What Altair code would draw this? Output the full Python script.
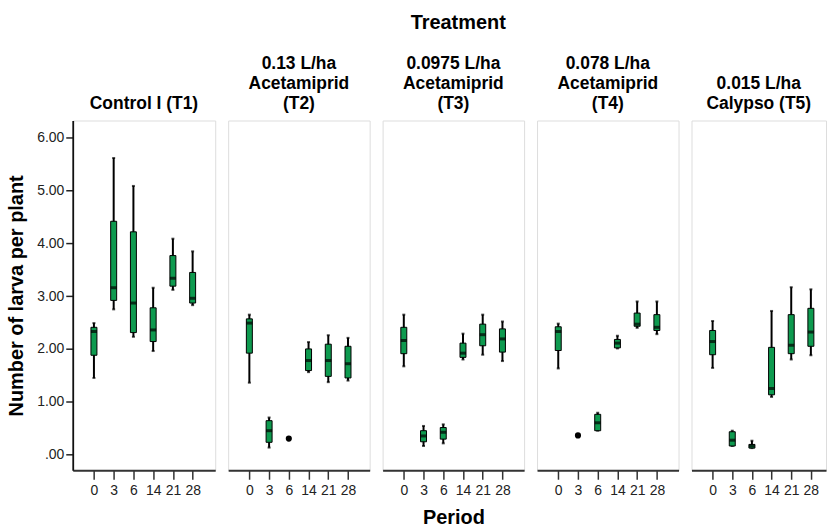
import json
import altair as alt
import pandas as pd

periods = ["0", "3", "6", "14", "21", "28"]
treatment_titles = [
    ["Control I (T1)"],
    ["0.13 L/ha", "Acetamiprid", "(T2)"],
    ["0.0975 L/ha", "Acetamiprid", "(T3)"],
    ["0.078 L/ha", "Acetamiprid", "(T4)"],
    ["0.015 L/ha", "Calypso (T5)"],
]

# box statistics per treatment (min, q1, median, q3, max) for each period
t1_min = [1.45, 2.75, 2.23, 1.96, 3.12, 2.83]
t1_q1 = [1.88, 2.92, 2.31, 2.14, 3.19, 2.87]
t1_med = [2.33, 3.16, 2.87, 2.36, 3.34, 2.96]
t1_q3 = [2.41, 4.42, 4.22, 2.78, 3.77, 3.45]
t1_max = [2.49, 5.62, 5.09, 3.16, 4.09, 3.85]

t2_min = [1.36, 0.13, None, 1.56, 1.37, 1.40]
t2_q1 = [1.92, 0.23, None, 1.59, 1.48, 1.45]
t2_med = [2.49, 0.45, None, 1.78, 1.78, 1.72]
t2_q3 = [2.57, 0.64, None, 2.00, 2.09, 2.05]
t2_max = [2.65, 0.70, None, 2.13, 2.26, 2.21]

t3_min = [1.67, 0.16, 0.21, 1.80, 1.89, 1.77]
t3_q1 = [1.91, 0.24, 0.29, 1.84, 2.06, 1.94]
t3_med = [2.16, 0.35, 0.42, 1.92, 2.27, 2.19]
t3_q3 = [2.41, 0.45, 0.51, 2.11, 2.47, 2.38]
t3_max = [2.65, 0.54, 0.57, 2.29, 2.65, 2.52]

t4_min = [1.63, None, 0.45, 2.01, 2.40, 2.28]
t4_q1 = [1.97, None, 0.45, 2.02, 2.43, 2.35]
t4_med = [2.33, None, 0.60, 2.11, 2.47, 2.41]
t4_q3 = [2.42, None, 0.76, 2.18, 2.68, 2.65]
t4_max = [2.48, None, 0.79, 2.25, 2.90, 2.90]

t5_min = [1.64, 0.16, 0.12, 1.09, 1.80, 1.88]
t5_q1 = [1.89, 0.16, 0.12, 1.13, 1.91, 2.05]
t5_med = [2.14, 0.27, 0.16, 1.25, 2.07, 2.32]
t5_q3 = [2.35, 0.43, 0.19, 2.03, 2.65, 2.77]
t5_max = [2.53, 0.45, 0.26, 2.72, 3.17, 3.13]

# collapsed groups drawn as single dots
dot_treatment = [1, 3]
dot_period_idx = [2, 1]
dot_value = [0.30, 0.36]

stats = [
    (t1_min, t1_q1, t1_med, t1_q3, t1_max),
    (t2_min, t2_q1, t2_med, t2_q3, t2_max),
    (t3_min, t3_q1, t3_med, t3_q3, t3_max),
    (t4_min, t4_q1, t4_med, t4_q3, t4_max),
    (t5_min, t5_q1, t5_med, t5_q3, t5_max),
]

rows = []
for t, (mn, q1, md, q3, mx) in enumerate(stats):
    for i in range(len(periods)):
        if md[i] is None:
            continue
        rows.append(dict(t=t, idx=i, period=periods[i], lo=mn[i], q1=q1[i],
                         med=md[i], q3=q3[i], hi=mx[i]))
box_df = pd.DataFrame(rows)
dot_df = pd.DataFrame(dict(t=dot_treatment, idx=dot_period_idx, v=dot_value))

GREEN = "#0e9a4f"
FONT = "Liberation Sans"
STEP = 21.3
PAD = 17.5
YDOM = [-0.30, 6.33]
label_expr = json.dumps(periods) + "[datum.value]"


def panel(t, width, show_y, show_xtitle):
    xdom = [-PAD / STEP, (width - PAD) / STEP]
    xaxis_kwargs = dict(values=list(range(len(periods))), labelExpr=label_expr,
                        grid=False, tickSize=9, tickWidth=1.5, tickColor="#333",
                        domainColor="#333", domainWidth=1.8, labelFontSize=14,
                        labelColor="#222", labelFont=FONT, labelPadding=4,
                        titleFontSize=20, titleFont=FONT, titleFontWeight="bold",
                        titleColor="#000", titlePadding=10)
    if show_xtitle:
        xaxis_kwargs["title"] = "Period"
    else:
        xaxis_kwargs["title"] = None
    x = alt.X("idx:Q", scale=alt.Scale(domain=xdom, nice=False, zero=False),
              axis=alt.Axis(**xaxis_kwargs))
    if show_y:
        yaxis = alt.Axis(values=[0, 1, 2, 3, 4, 5, 6],
                         labelExpr="datum.value == 0 ? '.00' : format(datum.value, '.2f')",
                         grid=False, tickSize=7, tickWidth=1.5, tickColor="#222",
                         domainColor="#111", domainWidth=1.8, labelFontSize=14,
                         labelColor="#222", labelFont=FONT, labelPadding=2,
                         title="Number of larva per plant", titleFontSize=20,
                         titleFont=FONT, titleFontWeight="bold", titleColor="#000",
                         titlePadding=10)
    else:
        yaxis = None
    yscale = alt.Scale(domain=YDOM, nice=False, zero=False)

    sub = box_df[box_df.t == t]
    base = alt.Chart(sub)
    whisk = base.mark_rule(color="#000", strokeWidth=2).encode(
        x=x, y=alt.Y("lo:Q", scale=yscale, axis=yaxis), y2="hi:Q")
    cap_lo = base.mark_tick(orient="horizontal", size=3, thickness=2, color="#000").encode(
        x=x, y=alt.Y("lo:Q", scale=yscale))
    cap_hi = base.mark_tick(orient="horizontal", size=3, thickness=2, color="#000").encode(
        x=x, y=alt.Y("hi:Q", scale=yscale))
    box = base.mark_bar(size=6, fill=GREEN, stroke="#000", strokeWidth=1).encode(
        x=x, y=alt.Y("q1:Q", scale=yscale), y2="q3:Q")
    med = base.mark_tick(orient="horizontal", size=6, thickness=3, color="#000").encode(
        x=x, y=alt.Y("med:Q", scale=yscale))
    layers = [whisk, cap_lo, cap_hi, box, med]
    dsub = dot_df[dot_df.t == t]
    if len(dsub):
        dots = alt.Chart(dsub).mark_point(filled=True, size=38, color="#000", opacity=1).encode(
            x=x, y=alt.Y("v:Q", scale=yscale))
        layers.append(dots)
    return alt.layer(*layers).properties(
        width=width, height=351,
        title=alt.TitleParams(text=treatment_titles[t], fontSize=17.5, font=FONT,
                              fontWeight="bold", color="#000", lineHeight=20,
                              offset=8, anchor="middle"),
    )


widths = [143, 142, 142, 142, 135]
panels = [panel(t, widths[t], t == 0, t == 2) for t in range(5)]

chart = alt.hconcat(*panels, spacing=11).properties(
    title=alt.TitleParams(text="Treatment", fontSize=20, font=FONT, fontWeight="bold",
                          color="#000", anchor="middle", dx=42, offset=22),
    padding={"left": 6, "top": 12, "right": 0, "bottom": 2},
).configure_view(stroke="#444", strokeWidth=2).configure(background="white")

chart.save("out.html", embed_options={"renderer": "svg", "actions": False})
